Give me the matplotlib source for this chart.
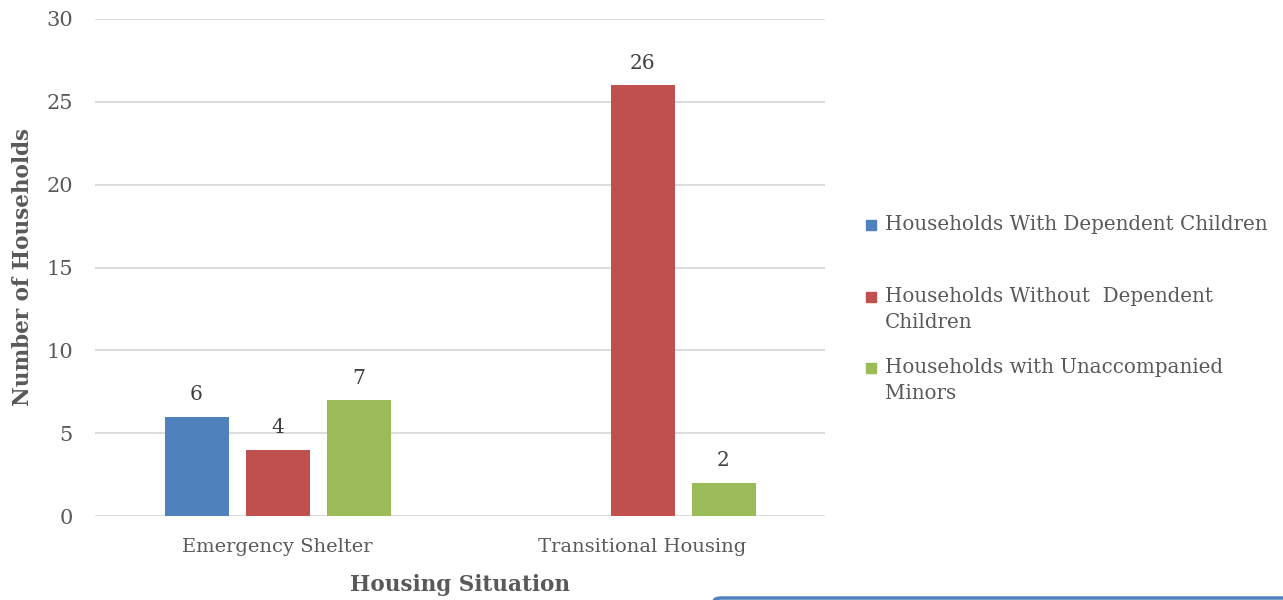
import matplotlib
matplotlib.use("Agg")
import matplotlib.pyplot as plt
import numpy as np
from matplotlib.patches import Rectangle, FancyBboxPatch

categories = ["Emergency Shelter", "Transitional Housing"]
series_names = ["Households With Dependent Children",
                "Households Without  Dependent\nChildren",
                "Households with Unaccompanied\nMinors"]
with_children = [6, 0]
without_children = [4, 26]
unaccompanied = [7, 2]
values = [with_children, without_children, unaccompanied]
colors = ["#4f81bd", "#c0504d", "#9bbb59"]
yticks = [0, 5, 10, 15, 20, 25, 30]

plt.rcParams['font.family'] = ['DejaVu Serif']
W, H = 1283, 600
fig = plt.figure(figsize=(W/100, H/100), dpi=100)
ax = fig.add_axes([95/W, 1-516/H, 730/W, (516-19)/H])

x = np.arange(len(categories))
bw = 64/365
step = 81/365
for i, (vals, c) in enumerate(zip(values, colors)):
    pos = x + (i-1)*step
    for p, v in zip(pos, vals):
        if v > 0:
            ax.bar(p, v, width=bw, color=c, zorder=3)
            ax.annotate(str(v), (p, v), xytext=(0, 9), textcoords='offset points',
                        ha='center', va='bottom', fontsize=14.5, color='#404040')

ax.set_xlim(-0.5, 1.5)
ax.set_ylim(0, 30)
ax.set_yticks(yticks)
ax.set_yticklabels([str(t) for t in yticks], fontsize=15, color='#595959')
ax.set_xticks(x)
ax.set_xticklabels(categories, fontsize=14, color='#595959')
ax.tick_params(axis='both', length=0)
ax.tick_params(axis='y', pad=16)
ax.tick_params(axis='x', pad=16)
ax.grid(axis='y', color='#d9d9d9', linewidth=1.3, zorder=0)
for s in ax.spines.values():
    s.set_visible(False)
ax.set_ylabel("Number of Households", fontsize=15.5, fontweight='bold', color='#595959', labelpad=9)
ax.set_xlabel("Housing Situation", fontsize=15.5, fontweight='bold', color='#595959', labelpad=13)

# legend
ys = [225, 297, 368]
for name, c, y in zip(series_names, colors, ys):
    fig.patches.append(Rectangle((866/W, 1-(y+5)/H), 10/W, 10/H, transform=fig.transFigure,
                                 color=c, figure=fig))
    fig.text(885/W, 1-(y-10)/H, name, fontsize=14.3, color='#595959', va='top', ha='left',
             linespacing=1.45)

# blue frame edge at bottom right (top edge of a box below)
fig.patches.append(FancyBboxPatch((714/W, 1-(598+40)/H), 600/W, 40/H,
                                  boxstyle="round,pad=0,rounding_size=0.006",
                                  transform=fig.transFigure, facecolor='none', edgecolor='#4f81bd',
                                  linewidth=2.5, figure=fig, clip_on=False))

fig.savefig("out.png", dpi=100)
